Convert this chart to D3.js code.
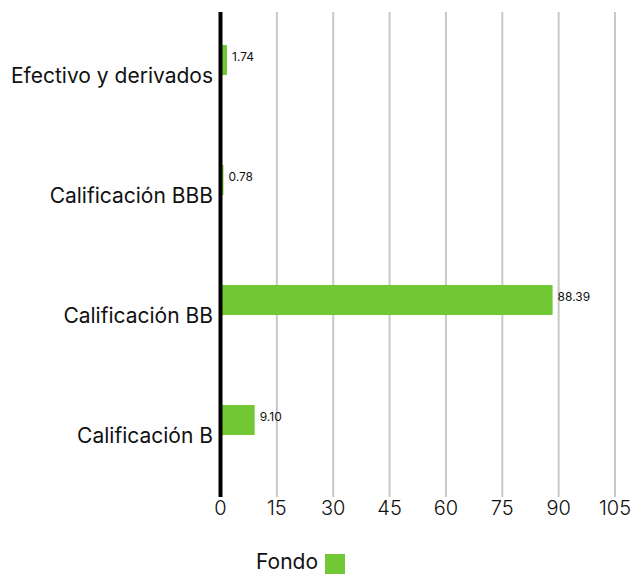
<!DOCTYPE html>
<html>
<head>
<meta charset="utf-8">
<script src="https://cdn.jsdelivr.net/npm/d3@7"></script>
<style>
  body { margin: 0; background: #fff; }
  svg text { font-family: Inter, "Noto Sans", sans-serif; fill: #111; }
</style>
</head>
<body>
<svg id="chart" width="635" height="574"></svg>
<script>
var categories = ['Efectivo y derivados', 'Calificación BBB', 'Calificación BB', 'Calificación B'];
var fondo      = [1.74, 0.78, 88.39, 9.10];
var ticks      = [0, 15, 30, 45, 60, 75, 90, 105];
var seriesName = 'Fondo';

var svg = d3.select('#chart');
var plotLeft = 220.5, plotRight = 615, plotTop = 15, plotBottom = 495;

var x = d3.scaleLinear().domain([0, 105]).range([plotLeft, plotRight]);
var y = d3.scaleBand().domain(categories).range([plotTop, plotBottom]);

// vertical grid
svg.append('g')
    .selectAll('line')
    .data(ticks.slice(1))
    .join('line')
    .attr('x1', function(d){ return x(d); })
    .attr('x2', function(d){ return x(d); })
    .attr('y1', 12)
    .attr('y2', 497)
    .attr('stroke', '#c8c8c8')
    .attr('stroke-width', 2);

// tick labels
svg.append('g')
    .selectAll('text')
    .data(ticks)
    .join('text')
    .attr('x', function(d){ return x(d); })
    .attr('y', 510)
    .attr('text-anchor', 'middle')
    .attr('dominant-baseline', 'middle')
    .style('font-size', '20px')
    .style('font-weight', 300)
    .text(function(d){ return d; });

// bars, upper half of each band
var barH = 30;
svg.append('g')
    .selectAll('rect')
    .data(fondo)
    .join('rect')
    .attr('x', x(0))
    .attr('y', function(d, i){ return y(categories[i]) + y.bandwidth() / 2 - barH; })
    .attr('width', function(d){ return x(d) - x(0); })
    .attr('height', barH)
    .attr('fill', '#73c935');

// value labels
svg.append('g')
    .selectAll('text')
    .data(fondo)
    .join('text')
    .attr('x', function(d){ return x(d) + 5; })
    .attr('y', function(d, i){ return y(categories[i]) + y.bandwidth() / 2 - barH / 2 - 2; })
    .attr('dominant-baseline', 'middle')
    .style('font-size', '12px')
    .text(function(d){ return d.toFixed(2); });

// category labels
svg.append('g')
    .selectAll('text')
    .data(categories)
    .join('text')
    .attr('x', 213)
    .attr('y', function(d){ return y(d) + y.bandwidth() / 2 + 2; })
    .attr('text-anchor', 'end')
    .attr('dominant-baseline', 'middle')
    .style('font-size', '21px')
    .text(function(d){ return d; });

// axis line
svg.append('line')
    .attr('x1', x(0)).attr('x2', x(0))
    .attr('y1', 12).attr('y2', 497)
    .attr('stroke', '#000')
    .attr('stroke-width', 4);

// legend
svg.append('text')
    .attr('x', 318)
    .attr('y', 563)
    .attr('text-anchor', 'end')
    .attr('dominant-baseline', 'middle')
    .style('font-size', '21px')
    .text(seriesName);
svg.append('rect')
    .attr('x', 325).attr('y', 554)
    .attr('width', 20).attr('height', 20)
    .attr('fill', '#73c935');
</script>
</body>
</html>
